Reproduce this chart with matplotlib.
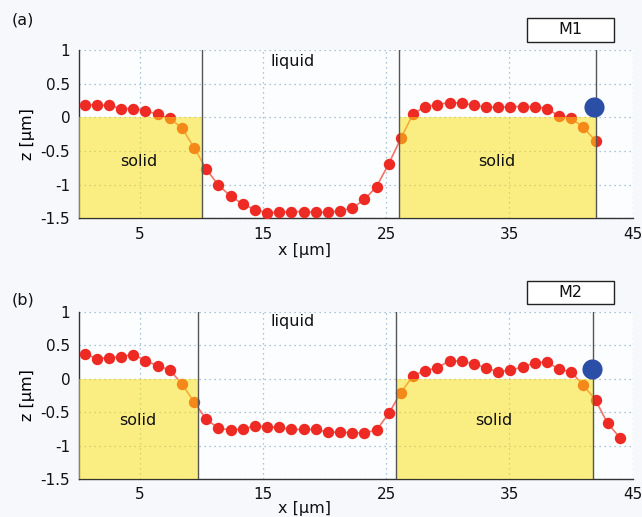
import matplotlib
matplotlib.use("Agg")
import matplotlib.pyplot as plt
from matplotlib.patches import Rectangle

# ---------------- data ----------------
x_a = [0.50, 1.49, 2.48, 3.46, 4.45, 5.44, 6.43, 7.42, 8.40, 9.39,
       10.38, 11.37, 12.36, 13.34, 14.33, 15.32, 16.31, 17.30, 18.28, 19.27,
       20.26, 21.25, 22.24, 23.22, 24.21, 25.20, 26.19, 27.18, 28.16, 29.15,
       30.14, 31.13, 32.12, 33.10, 34.09, 35.08, 36.07, 37.06, 38.04, 39.03,
       40.02, 41.01, 42.00]
z_a = [0.19, 0.18, 0.18, 0.13, 0.13, 0.10, 0.045, -0.015, -0.16, -0.45,
       -0.77, -1.01, -1.17, -1.29, -1.37, -1.42, -1.41, -1.40, -1.40, -1.41,
       -1.41, -1.39, -1.35, -1.22, -1.03, -0.69, -0.31, 0.05, 0.16, 0.19,
       0.22, 0.21, 0.18, 0.15, 0.15, 0.16, 0.16, 0.16, 0.13, 0.02,
       -0.015, -0.15, -0.35]

x_b = [0.50, 1.49, 2.48, 3.46, 4.45, 5.44, 6.43, 7.42, 8.40, 9.39,
       10.38, 11.37, 12.36, 13.34, 14.33, 15.32, 16.31, 17.30, 18.28, 19.27,
       20.26, 21.25, 22.24, 23.22, 24.21, 25.20, 26.19, 27.18, 28.16, 29.15,
       30.14, 31.13, 32.12, 33.10, 34.09, 35.08, 36.07, 37.06, 38.04, 39.03,
       40.02, 41.01, 42.00, 42.98, 43.97]
z_b = [0.37, 0.30, 0.31, 0.33, 0.36, 0.27, 0.19, 0.13, -0.08, -0.35,
       -0.61, -0.74, -0.77, -0.75, -0.71, -0.72, -0.73, -0.76, -0.76, -0.76,
       -0.80, -0.80, -0.81, -0.81, -0.77, -0.52, -0.21, 0.045, 0.12, 0.16,
       0.27, 0.26, 0.22, 0.16, 0.10, 0.13, 0.17, 0.24, 0.25, 0.14,
       0.10, -0.10, -0.32, -0.67, -0.88]

# interface (vertical line) positions and solid regions
walls_a = [10.0, 26.0, 42.0]
walls_b = [9.7, 25.8, 41.8]
solids_a = [(0.0, 10.0), (26.0, 42.0)]
solids_b = [(0.0, 9.7), (25.8, 41.8)]
marker_a = (41.9, 0.16)
marker_b = (41.75, 0.15)
labels = ["(a)", "(b)"]
boxes = ["M1", "M2"]
liquid_pos = [(17.4, 0.83), (17.4, 0.85)]
solid_text_a = [(4.9, -0.65), (34.0, -0.65)]
solid_text_b = [(4.85, -0.62), (33.7, -0.62)]

xticks = [5, 15, 25, 35, 45]
yticks = [1, 0.5, 0, -0.5, -1, -1.5]
ytick_labels = ["1", "0.5", "0", "-0.5", "-1", "-1.5"]

# ---------------- figure ----------------
W, H = 642, 517
fig = plt.figure(figsize=(W / 100, H / 100), dpi=100, facecolor="#f6f8fb")

ax_rects = [
    [78.5 / W, 1 - 218.3 / H, (632.5 - 78.5) / W, 168.3 / H],
    [78.5 / W, 1 - 479.0 / H, (632.5 - 78.5) / W, 167.3 / H],
]
xlabel_y = [250, 508]   # pixel rows of x-label centres
box_rows = [(18.3, 41.7), (280.7, 304.0)]
lab_y = [20, 300]

panels = [
    (x_a, z_a, walls_a, solids_a, marker_a, solid_text_a),
    (x_b, z_b, walls_b, solids_b, marker_b, solid_text_b),
]

FS = 11.5
for i, (xs, zs, walls, solids, mk, stext) in enumerate(panels):
    ax = fig.add_axes(ax_rects[i])
    ax.set_facecolor("#fcfdfe")
    ax.set_xlim(0, 45)
    ax.set_ylim(-1.5, 1)
    ax.set_xticks(xticks)
    ax.set_yticks(yticks)
    ax.set_yticklabels(ytick_labels)
    ax.tick_params(length=0, labelsize=11, colors="#111111", pad=6)
    ax.grid(True, linestyle=(0, (1, 3)), color="#8fb2cc", linewidth=0.9)
    ax.set_axisbelow(True)
    for s in ["top", "right"]:
        ax.spines[s].set_visible(False)
    for s in ["left", "bottom"]:
        ax.spines[s].set_color("#333333")
        ax.spines[s].set_linewidth(1.0)

    # profile
    ax.plot(xs, zs, color="#f27565", linewidth=1.2, zorder=3)
    ax.plot(xs, zs, linestyle="none", marker="o", markersize=8.2,
            markerfacecolor="#ee2a24", markeredgewidth=0, zorder=4)

    # solid regions (translucent, on top)
    for (x0, x1) in solids:
        ax.add_patch(Rectangle((x0, -1.5), x1 - x0, 1.5, facecolor="#fadf10",
                               alpha=0.52, edgecolor="none", zorder=5))

    for w in walls:
        ax.axvline(w, color="#555555", linewidth=1.0, zorder=6)

    ax.plot([mk[0]], [mk[1]], linestyle="none", marker="o", markersize=14.5,
            markerfacecolor="#2b4ea6", markeredgewidth=0, zorder=7)

    ax.text(liquid_pos[i][0], liquid_pos[i][1], "liquid", ha="center",
            va="center", fontsize=FS, color="#111111", zorder=8)
    for (tx, tz) in stext:
        ax.text(tx, tz, "solid", ha="center", va="center", fontsize=FS,
                color="#111111", zorder=8)

    ax.set_ylabel("z [µm]", fontsize=FS, labelpad=4)
    fig.text(305 / W, 1 - xlabel_y[i] / H, "x [µm]", fontsize=FS,
             ha="center", va="center", color="#111111")

    fig.text(12 / W, 1 - lab_y[i] / H, labels[i], fontsize=FS, ha="left",
             va="center", color="#111111")

    y0, y1 = box_rows[i]
    fig.patches.append(Rectangle((526.7 / W, 1 - y1 / H), (614.3 - 526.7) / W,
                                 (y1 - y0) / H, transform=fig.transFigure,
                                 facecolor="white", edgecolor="#222222",
                                 linewidth=1.0, figure=fig))
    fig.text(570.5 / W, 1 - (y0 + y1) / 2 / H, boxes[i], fontsize=FS,
             ha="center", va="center", color="#111111")

fig.savefig("out.png", dpi=100, facecolor=fig.get_facecolor())
